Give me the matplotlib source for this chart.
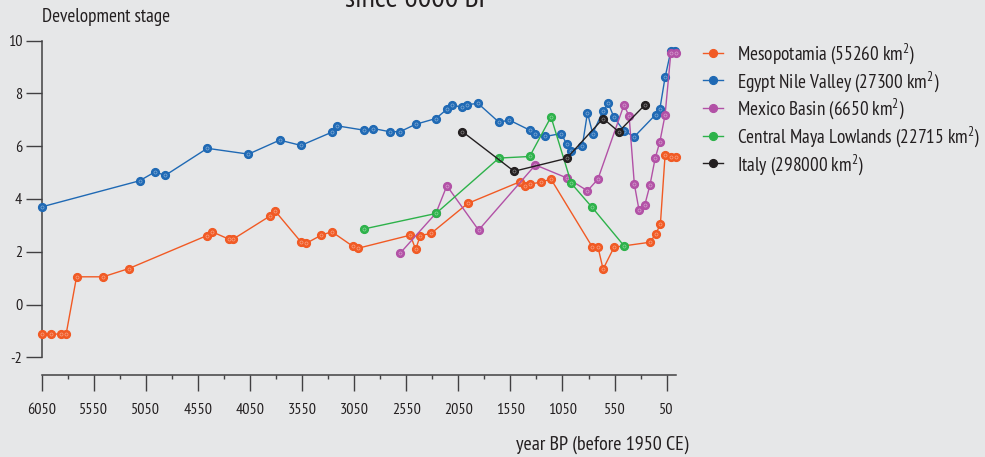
import matplotlib
matplotlib.use("Agg")
import matplotlib.pyplot as plt
from matplotlib.ticker import FixedLocator
from matplotlib import font_manager

# pick a narrow sans font if available, otherwise scale Liberation Sans down
def _find_narrow():
    cands = [f for f in font_manager.fontManager.ttflist
             if f.style == 'normal' and f.weight in (400, 'normal', 'regular')]
    for key in ('narrow', 'condensed'):
        names = sorted({f.name for f in cands if key in f.name.lower()
                        and 'sans' in f.name.lower() and 'semi' not in f.name.lower()
                        and 'extra' not in f.name.lower()})
        if names:
            return names[0]
    return None

narrow = _find_narrow()
if narrow:
    plt.rcParams['font.family'] = [narrow, 'DejaVu Sans']
    K = 1.0
else:
    plt.rcParams['font.family'] = ['Liberation Sans', 'DejaVu Sans']
    K = 0.78
plt.rcParams['mathtext.default'] = 'regular'

# ---------------- data (year BP, development stage) ----------------
meso_yr = [6050, 5960, 5865, 5815, 5715, 5460, 5215, 4465, 4415, 4255, 4215, 3860, 3810,
           3560, 3510, 3370, 3265, 3060, 3015, 2510, 2460, 2415, 2310, 1960, 1460, 1410,
           1360, 1260, 1160, 765, 710, 660, 555, 210, 155, 110, 65, 10, -40]
meso_v = [-1.12, -1.12, -1.12, -1.12, 1.05, 1.05, 1.36, 2.61, 2.76, 2.48, 2.47, 3.35, 3.55,
          2.37, 2.32, 2.62, 2.76, 2.20, 2.13, 2.63, 2.09, 2.61, 2.70, 3.83, 4.65, 4.49,
          4.56, 4.64, 4.75, 2.19, 2.19, 1.34, 2.17, 2.36, 2.67, 3.04, 5.66, 5.58, 5.58]

egypt_yr = [6050, 5110, 4960, 4865, 4460, 4065, 3765, 3560, 3265, 3210, 2960, 2865, 2710,
            2610, 2460, 2265, 2160, 2115, 2015, 1965, 1860, 1660, 1560, 1365, 1310, 1215,
            1060, 1010, 965, 860, 810, 760, 660, 610, 555, 460, 360, 155, 115, 65, 10, -35]
egypt_v = [3.70, 4.69, 5.03, 4.89, 5.92, 5.70, 6.23, 6.03, 6.53, 6.77, 6.61, 6.67, 6.55,
           6.55, 6.83, 7.05, 7.40, 7.55, 7.49, 7.58, 7.62, 6.91, 6.99, 6.61, 6.48, 6.37,
           6.48, 6.07, 5.81, 6.00, 7.27, 6.48, 7.34, 7.62, 7.09, 6.58, 6.36, 7.20, 7.41,
           8.61, 9.60, 9.60]

mexico_yr = [2605, 2265, 2160, 1855, 1310, 1010, 810, 710, 460, 410, 360, 315, 260, 210,
             160, 115, 65, 10, -40]
mexico_v = [1.96, 3.46, 4.50, 2.82, 5.29, 4.80, 4.31, 4.75, 7.56, 7.14, 4.56, 3.58, 3.77,
            4.53, 5.54, 6.17, 7.18, 9.52, 9.52]

maya_yr = [2960, 2265, 1660, 1365, 1160, 965, 765, 460]
maya_v = [2.86, 3.45, 5.55, 5.61, 7.11, 4.59, 3.68, 2.23]

italy_yr = [2010, 1515, 1010, 660, 510, 260]
italy_v = [6.55, 5.05, 5.54, 7.05, 6.55, 7.56]

series_labels = ["Mesopotamia (55260 km$^{2}$)", "Egypt Nile Valley (27300 km$^{2}$)",
                 "Mexico Basin (6650 km$^{2}$)", "Central Maya Lowlands (22715 km$^{2}$)",
                 "Italy (298000 km$^{2}$)"]
series_colors = ["#F15A24", "#1F69B4", "#B251A6", "#2DB24A", "#231F20"]

x_ticks = [6050, 5550, 5050, 4550, 4050, 3550, 3050, 2550, 2050, 1550, 1050, 550, 50]
y_ticks = [-2, 0, 2, 4, 6, 8, 10]

# ---------------- figure ----------------
BG = "#E6E7E8"
AX = "#414042"
TXT = "#231F20"
fig = plt.figure(figsize=(9.85, 4.57), dpi=100, facecolor=BG)
ax = fig.add_axes([0.0423, 0.1801, 0.6440, 0.7309], facecolor=BG)

data = [(meso_yr, meso_v), (egypt_yr, egypt_v), (mexico_yr, mexico_v),
        (maya_yr, maya_v), (italy_yr, italy_v)]
handles = []
for i, ((xs, ys), col, lab) in enumerate(zip(data, series_colors, series_labels)):
    h, = ax.plot(xs, ys, color=col, lw=1.0, marker='o', ms=5.8, mfc=col, mec=col,
                 mew=0.8, label=lab, zorder=3 + i, clip_on=False)
    ax.plot(xs, ys, ls='none', marker='o', ms=2.2, mfc='none', mec='white', mew=0.5,
            alpha=0.45, zorder=3 + i, clip_on=False)
    handles.append(h)

ax.set_xlim(6050, -40)
ax.set_ylim(-2.66, 10)

for s in ['top', 'right']:
    ax.spines[s].set_visible(False)
ax.spines['left'].set_bounds(-2, 10)
ax.spines['bottom'].set_bounds(6050, -40)
for s in ['left', 'bottom']:
    ax.spines[s].set_color(AX)
    ax.spines[s].set_linewidth(1.1)

ax.xaxis.set_major_locator(FixedLocator(x_ticks))
ax.xaxis.set_minor_locator(FixedLocator([t - 250 for t in x_ticks[:-1]]))
ax.set_xticklabels([str(t) for t in x_ticks])
ax.yaxis.set_major_locator(FixedLocator(y_ticks))
ax.set_yticklabels([str(t) for t in y_ticks])

tick_fs = 11.5 * K
ax.tick_params(axis='x', which='major', direction='out', length=11.5, width=1.0,
               color=AX, pad=9, labelsize=tick_fs, labelcolor=TXT)
ax.tick_params(axis='x', which='minor', direction='out', length=3, width=1.0, color=AX)
ax.tick_params(axis='y', which='major', direction='out', length=11.5, width=1.0,
               color=AX, pad=2.4, labelsize=tick_fs, labelcolor=TXT)

fig.text(0.0423, 0.9525, "Development stage", fontsize=13.8 * K, color=TXT,
         ha='left', va='baseline')
fig.text(0.6985, 0.0164, "year BP (before 1950 CE)", fontsize=14.4 * K, color=TXT,
         ha='right', va='baseline')
fig.text(0.4254, 0.9853, "since 6000 BP", fontsize=21.6 * K, color=TXT,
         ha='center', va='baseline')

leg_fs = 13.9 * K
fig.legend(handles=handles, labels=series_labels, loc='upper left',
           bbox_to_anchor=(0.7134, 0.910), frameon=False, fontsize=leg_fs,
           handlelength=1.07 / K, handletextpad=0.69 / K,
           labelspacing=0.15 + (1 - K) * 2.0,
           borderpad=0, borderaxespad=0, labelcolor=TXT)

fig.savefig("out.png", dpi=100, facecolor=BG)
